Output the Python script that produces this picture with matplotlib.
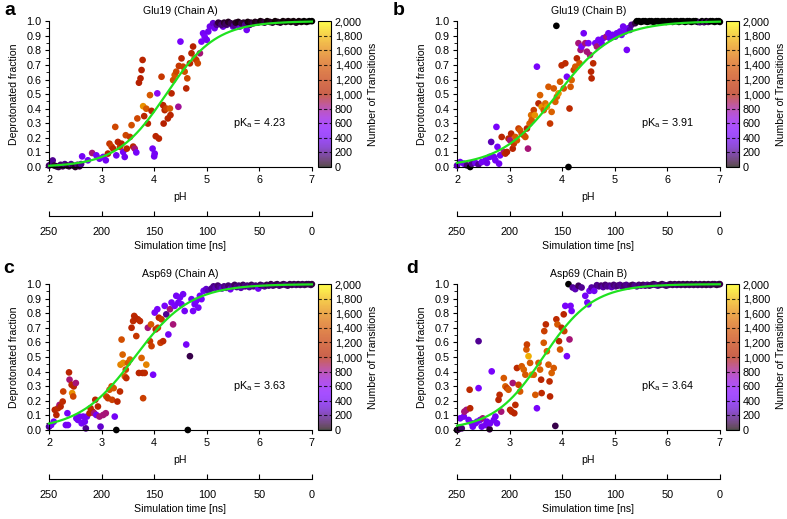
import numpy as np
import matplotlib
matplotlib.use('Agg')
import matplotlib.pyplot as plt
from matplotlib import colors
from matplotlib.colorbar import Colorbar
from matplotlib.ticker import FuncFormatter, MultipleLocator

plt.rcParams['font.family'] = ['Liberation Sans', 'DejaVu Sans']
plt.rcParams['font.size'] = 7.6
plt.rcParams['mathtext.default'] = 'regular'

titles = ['Glu19 (Chain A)', 'Glu19 (Chain B)', 'Asp69 (Chain A)', 'Asp69 (Chain B)']
letters = ['a', 'b', 'c', 'd']
pka = [4.23, 3.91, 3.63, 3.64]
hill = [0.92, 0.80, 0.82, 0.92]       # Hill coefficients
ph_ticks = [2, 3, 4, 5, 6, 7]
time_ticks = [250, 200, 150, 100, 50, 0]
cbar_ticks = list(range(0, 2001, 200))

# (pH, deprotonated fraction, number of transitions)
pts_a = [(2.00, 0.010, 120), (2.04, 0.020, 180), (2.07, 0.045, 200), (2.10, 0.010, 80), (2.14, 0.005, 60),
         (2.18, 0.000, 100), (2.22, 0.015, 150), (2.26, 0.005, 80), (2.30, 0.020, 180), (2.34, 0.010, 100),
         (2.38, 0.005, 60), (2.42, 0.020, 200), (2.46, 0.010, 120), (2.50, 0.000, 50), (2.54, 0.015, 150),
         (2.58, 0.005, 80), (2.61, 0.020, 200),
         (2.63, 0.073, 420), (2.74, 0.046, 400), (2.82, 0.096, 850), (2.90, 0.080, 420), (2.96, 0.057, 400),
         (3.03, 0.069, 430), (3.08, 0.046, 400), (3.12, 0.092, 1000), (3.15, 0.160, 1200), (3.19, 0.140, 1250),
         (3.22, 0.126, 1050), (3.26, 0.275, 1300), (3.28, 0.080, 400), (3.31, 0.172, 1050), (3.35, 0.138, 1200),
         (3.38, 0.160, 1000), (3.41, 0.103, 420), (3.44, 0.069, 400), (3.46, 0.218, 1300), (3.48, 0.126, 1050),
         (3.54, 0.206, 1200), (3.57, 0.287, 1350), (3.60, 0.140, 1050), (3.63, 0.126, 850), (3.66, 0.100, 430),
         (3.68, 0.333, 1300), (3.71, 0.578, 1000), (3.74, 0.608, 1000), (3.76, 0.665, 1000), (3.78, 0.734, 1050),
         (3.79, 0.417, 1650), (3.81, 0.349, 1050), (3.85, 0.400, 1400), (3.88, 0.298, 1050), (3.92, 0.493, 1400),
         (3.95, 0.385, 1050), (3.97, 0.126, 420), (4.00, 0.073, 400), (4.01, 0.092, 420), (4.03, 0.211, 1050),
         (4.06, 0.505, 600), (4.09, 0.195, 1050), (4.14, 0.619, 1200), (4.17, 0.424, 1050), (4.18, 0.298, 1000),
         (4.20, 0.390, 1050), (4.23, 0.401, 1250), (4.26, 0.333, 1050), (4.30, 0.401, 1400), (4.31, 0.356, 1050),
         (4.33, 0.505, 1050), (4.36, 0.596, 1350), (4.39, 0.631, 1400), (4.42, 0.654, 1300), (4.46, 0.413, 800),
         (4.47, 0.693, 1200), (4.50, 0.860, 450), (4.52, 0.745, 1050), (4.55, 0.688, 1250), (4.58, 0.654, 1350),
         (4.61, 0.539, 1050), (4.63, 0.608, 1300), (4.68, 0.711, 1050), (4.71, 0.780, 1050), (4.74, 0.826, 1000),
         (4.77, 0.745, 1350), (4.80, 0.734, 1200), (4.83, 0.711, 1300), (4.87, 0.780, 850), (4.90, 0.860, 450),
         (4.93, 0.917, 420), (4.96, 0.894, 450), (5.00, 0.872, 420), (5.03, 0.929, 400), (5.06, 0.963, 380),
         (5.12, 0.986, 300), (5.15, 0.952, 400), (5.19, 0.975, 200), (5.25, 0.986, 150), (5.31, 0.963, 350),
         (5.38, 0.975, 180), (5.44, 0.986, 150), (5.50, 0.963, 380), (5.57, 0.982, 200), (5.63, 0.963, 380),
         (5.76, 0.940, 400), (5.82, 0.975, 150),
         (5.22, 0.990, 80), (5.28, 0.975, 150), (5.33, 0.990, 60), (5.36, 0.980, 120), (5.41, 0.995, 40),
         (5.46, 0.985, 100), (5.52, 0.970, 200), (5.55, 0.990, 50), (5.60, 0.995, 30), (5.66, 0.985, 90),
         (5.70, 0.990, 60), (5.73, 0.975, 180), (5.78, 0.995, 20), (5.84, 0.990, 40), (5.88, 0.985, 100),
         (5.92, 0.995, 30), (5.97, 0.990, 60), (6.02, 1.000, 10), (6.06, 0.995, 40), (6.10, 0.990, 80),
         (6.15, 1.000, 10), (6.20, 0.995, 30), (6.25, 0.990, 60), (6.30, 1.000, 10), (6.35, 0.995, 20),
         (6.40, 0.990, 50), (6.45, 1.000, 10), (6.50, 0.995, 30), (6.55, 1.000, 10), (6.60, 0.995, 20),
         (6.65, 1.000, 10), (6.70, 0.990, 40), (6.75, 1.000, 10), (6.80, 0.995, 20), (6.85, 1.000, 0),
         (6.90, 0.995, 10), (6.95, 1.000, 0), (7.00, 1.000, 0)]

pts_b = [(2.00, 0.010, 250), (2.06, 0.034, 400), (2.13, 0.023, 380), (2.19, 0.011, 150), (2.25, 0.000, 0),
         (2.28, 0.023, 200), (2.35, 0.028, 400), (2.41, 0.018, 200), (2.47, 0.034, 400), (2.54, 0.046, 420),
         (2.57, 0.028, 380), (2.62, 0.069, 420), (2.65, 0.172, 250), (2.70, 0.069, 400), (2.73, 0.046, 420),
         (2.75, 0.275, 450), (2.77, 0.138, 430), (2.80, 0.023, 400), (2.82, 0.080, 420), (2.85, 0.206, 1050),
         (2.89, 0.103, 850), (2.92, 0.092, 1050), (2.95, 0.103, 1000), (2.98, 0.195, 1050), (3.01, 0.183, 850),
         (3.03, 0.229, 1050), (3.06, 0.126, 1050), (3.08, 0.160, 1200), (3.11, 0.206, 1400), (3.14, 0.183, 1400),
         (3.17, 0.264, 1250), (3.20, 0.252, 1400), (3.23, 0.229, 1350), (3.27, 0.218, 1200), (3.30, 0.206, 1350),
         (3.33, 0.264, 1050), (3.35, 0.126, 850), (3.38, 0.298, 1450), (3.41, 0.356, 1500), (3.42, 0.321, 1400),
         (3.46, 0.390, 1250), (3.48, 0.356, 1650), (3.52, 0.688, 450), (3.55, 0.436, 1050), (3.58, 0.493, 1450),
         (3.61, 0.413, 1650), (3.65, 0.390, 1400), (3.68, 0.436, 1500), (3.71, 0.413, 1650), (3.74, 0.550, 1400),
         (3.77, 0.298, 1200), (3.80, 0.378, 1450), (3.84, 0.539, 1400), (3.87, 0.447, 1450), (3.89, 0.968, 0),
         (3.90, 0.482, 1450), (3.93, 0.505, 1650), (3.96, 0.585, 1400), (3.99, 0.697, 1100), (4.03, 0.539, 1400),
         (4.06, 0.711, 1100), (4.09, 0.619, 450), (4.12, 0.000, 0), (4.14, 0.401, 1100), (4.16, 0.550, 1400),
         (4.18, 0.596, 1450), (4.22, 0.665, 1250), (4.25, 0.688, 1400), (4.28, 0.745, 1050), (4.31, 0.849, 850),
         (4.33, 0.711, 1400), (4.35, 0.803, 850), (4.37, 0.826, 450), (4.41, 0.917, 420), (4.44, 0.849, 850),
         (4.47, 0.791, 850), (4.50, 0.849, 450), (4.53, 0.768, 850), (4.55, 0.654, 1050), (4.56, 0.608, 1050),
         (4.59, 0.711, 1100), (4.63, 0.849, 450), (4.66, 0.826, 850), (4.69, 0.872, 450), (4.75, 0.849, 420),
         (4.78, 0.883, 420), (4.84, 0.894, 850), (4.88, 0.917, 420), (4.91, 0.883, 430), (4.96, 0.906, 420),
         (5.01, 0.894, 420), (5.04, 0.917, 400), (5.10, 0.929, 420), (5.13, 0.906, 420), (5.16, 0.963, 400),
         (5.20, 0.929, 420), (5.23, 0.803, 430), (5.26, 0.952, 400), (5.29, 0.940, 250), (5.32, 0.975, 200),
         (5.39, 0.986, 80), (5.42, 1.000, 0),
         (5.46, 1.000, 0), (5.50, 0.995, 0), (5.54, 1.000, 0), (5.58, 1.000, 0), (5.62, 0.995, 0),
         (5.66, 1.000, 0), (5.70, 1.000, 0), (5.74, 0.995, 0), (5.78, 1.000, 0), (5.82, 1.000, 0),
         (5.86, 0.995, 0), (5.90, 1.000, 0), (5.94, 1.000, 0), (5.98, 0.995, 0), (6.02, 1.000, 0),
         (6.06, 1.000, 0), (6.10, 0.995, 0), (6.14, 1.000, 0), (6.18, 1.000, 0), (6.22, 0.995, 0),
         (6.26, 1.000, 0), (6.30, 1.000, 0), (6.34, 0.995, 0), (6.38, 1.000, 0), (6.42, 1.000, 0),
         (6.46, 0.995, 0), (6.50, 1.000, 0), (6.54, 1.000, 0), (6.58, 0.995, 0), (6.62, 0.993, 150),
         (6.66, 1.000, 0), (6.70, 0.993, 120), (6.74, 1.000, 0), (6.78, 0.995, 100), (6.82, 1.000, 0),
         (6.86, 1.000, 0), (6.90, 0.995, 0), (6.94, 1.000, 0), (6.98, 1.000, 0), (7.00, 0.995, 0)]

pts_c = [(2.00, 0.023, 200), (2.04, 0.034, 420), (2.09, 0.057, 420), (2.11, 0.138, 1050), (2.14, 0.103, 1050),
         (2.17, 0.149, 1100), (2.20, 0.172, 850), (2.22, 0.161, 1050), (2.26, 0.195, 1100), (2.27, 0.264, 1250),
         (2.32, 0.034, 420), (2.35, 0.115, 430), (2.36, 0.034, 420), (2.38, 0.395, 1050), (2.39, 0.345, 850),
         (2.43, 0.310, 1100), (2.44, 0.253, 1650), (2.46, 0.230, 1300), (2.47, 0.299, 1050), (2.51, 0.322, 850),
         (2.52, 0.080, 420), (2.55, 0.069, 420), (2.58, 0.092, 420), (2.62, 0.046, 430), (2.65, 0.092, 420),
         (2.68, 0.057, 420), (2.70, 0.011, 200), (2.72, 0.092, 420), (2.77, 0.115, 1050), (2.79, 0.149, 1100),
         (2.83, 0.126, 1050), (2.86, 0.115, 850), (2.88, 0.207, 1050), (2.90, 0.103, 420), (2.93, 0.161, 1050),
         (2.96, 0.092, 850), (2.98, 0.023, 300), (3.03, 0.103, 850), (3.08, 0.115, 850), (3.09, 0.230, 1300),
         (3.12, 0.218, 1200), (3.15, 0.276, 1400), (3.19, 0.299, 1350), (3.20, 0.207, 1250), (3.23, 0.287, 1400),
         (3.25, 0.092, 420), (3.28, 0.000, 0), (3.30, 0.195, 1050), (3.35, 0.264, 1100), (3.36, 0.448, 1600),
         (3.38, 0.620, 1350), (3.40, 0.517, 1450), (3.41, 0.460, 1650), (3.44, 0.368, 1400), (3.46, 0.414, 1250),
         (3.47, 0.356, 1100), (3.50, 0.460, 1400), (3.54, 0.483, 1450), (3.57, 0.701, 1050), (3.60, 0.747, 1100),
         (3.62, 0.782, 1100), (3.64, 0.770, 1050), (3.66, 0.644, 1200), (3.69, 0.759, 1050), (3.71, 0.391, 1050),
         (3.73, 0.747, 1100), (3.76, 0.494, 1450), (3.78, 0.391, 1050), (3.79, 0.218, 1250), (3.82, 0.391, 1100),
         (3.85, 0.448, 1600), (3.88, 0.701, 850), (3.92, 0.609, 1200), (3.94, 0.724, 1400), (3.95, 0.575, 1250),
         (3.98, 0.379, 450), (4.01, 0.805, 450), (4.03, 0.690, 1050), (4.06, 0.828, 450), (4.07, 0.701, 1200),
         (4.09, 0.770, 1050), (4.12, 0.598, 1250), (4.14, 0.759, 1200), (4.17, 0.609, 1100), (4.20, 0.851, 450),
         (4.23, 0.793, 200), (4.27, 0.655, 420), (4.30, 0.828, 850), (4.33, 0.874, 450), (4.36, 0.724, 850),
         (4.39, 0.851, 450), (4.42, 0.920, 420), (4.46, 0.874, 420), (4.49, 0.908, 430), (4.52, 0.862, 450),
         (4.55, 0.931, 420), (4.58, 0.816, 420), (4.61, 0.586, 430), (4.64, 0.000, 0), (4.68, 0.506, 100),
         (4.71, 0.897, 420), (4.74, 0.816, 450), (4.77, 0.862, 420), (4.80, 0.885, 450), (4.84, 0.839, 430),
         (4.87, 0.920, 420), (4.90, 0.897, 430), (4.94, 0.954, 400), (4.99, 0.966, 300), (5.03, 0.954, 250),
         (5.09, 0.970, 200),
         (5.13, 0.985, 180), (5.17, 0.975, 250), (5.21, 0.990, 150), (5.25, 0.980, 200), (5.29, 0.970, 300),
         (5.33, 0.985, 180), (5.37, 0.975, 220), (5.41, 0.990, 150), (5.45, 0.965, 400), (5.49, 0.985, 200),
         (5.53, 0.995, 120), (5.57, 0.980, 200), (5.61, 0.990, 150), (5.65, 0.975, 250), (5.69, 0.995, 120),
         (5.73, 0.985, 180), (5.77, 0.990, 150), (5.81, 0.980, 220), (5.85, 0.995, 120), (5.89, 0.985, 180),
         (5.93, 0.990, 150), (5.98, 0.970, 400), (6.02, 0.995, 120), (6.06, 0.990, 150), (6.10, 0.985, 180),
         (6.14, 0.995, 100), (6.18, 0.990, 150), (6.22, 1.000, 100), (6.26, 0.990, 150), (6.30, 0.995, 120),
         (6.34, 1.000, 100), (6.38, 0.990, 150), (6.42, 0.995, 120), (6.46, 1.000, 100), (6.50, 0.995, 150),
         (6.54, 0.990, 120), (6.58, 1.000, 100), (6.62, 0.995, 120), (6.66, 1.000, 100), (6.70, 0.995, 150),
         (6.74, 1.000, 80), (6.78, 0.995, 120), (6.82, 1.000, 100), (6.86, 0.995, 120), (6.90, 1.000, 80),
         (6.94, 1.000, 100), (6.98, 0.995, 120), (7.00, 1.000, 80)]

pts_d = [(2.00, 0.000, 0), (2.03, 0.005, 80), (2.06, 0.080, 420), (2.09, 0.011, 150), (2.13, 0.092, 420),
         (2.14, 0.126, 850), (2.18, 0.138, 850), (2.22, 0.069, 420), (2.24, 0.276, 1100), (2.25, 0.149, 1050),
         (2.28, 0.046, 420), (2.30, 0.023, 400), (2.35, 0.046, 420), (2.38, 0.057, 430), (2.41, 0.609, 200),
         (2.41, 0.287, 450), (2.44, 0.069, 420), (2.47, 0.023, 400), (2.49, 0.080, 850), (2.54, 0.034, 420),
         (2.57, 0.057, 400), (2.62, 0.005, 80), (2.63, 0.046, 420), (2.66, 0.402, 450), (2.70, 0.069, 420),
         (2.73, 0.092, 420), (2.76, 0.046, 430), (2.79, 0.207, 1050), (2.81, 0.241, 1100), (2.84, 0.126, 850),
         (2.89, 0.356, 1400), (2.92, 0.299, 1450), (2.95, 0.287, 1250), (2.98, 0.276, 1400), (3.01, 0.138, 1050),
         (3.04, 0.126, 1100), (3.06, 0.322, 850), (3.09, 0.115, 1050), (3.11, 0.172, 1100), (3.14, 0.425, 1100),
         (3.17, 0.310, 1250), (3.20, 0.264, 1400), (3.23, 0.437, 1400), (3.27, 0.414, 1450), (3.30, 0.379, 1400),
         (3.32, 0.552, 1400), (3.33, 0.586, 1250), (3.36, 0.506, 1750), (3.39, 0.460, 1400), (3.42, 0.379, 1650),
         (3.46, 0.379, 1450), (3.49, 0.241, 1400), (3.52, 0.149, 450), (3.55, 0.460, 1400), (3.58, 0.414, 1450),
         (3.60, 0.345, 1050), (3.61, 0.253, 1100), (3.65, 0.598, 1400), (3.66, 0.678, 1250), (3.69, 0.724, 1100),
         (3.71, 0.540, 1450), (3.74, 0.448, 1400), (3.76, 0.333, 1100), (3.77, 0.230, 1050), (3.80, 0.391, 1450),
         (3.84, 0.425, 1400), (3.87, 0.028, 100), (3.89, 0.759, 1100), (3.91, 0.724, 1400), (3.94, 0.609, 1050),
         (3.96, 0.552, 1400), (3.99, 0.701, 1100), (4.03, 0.793, 1050), (4.04, 0.678, 1250), (4.06, 0.851, 450),
         (4.09, 0.506, 450), (4.12, 1.000, 0), (4.14, 0.621, 850), (4.16, 0.851, 450), (4.18, 0.816, 430),
         (4.20, 0.977, 200), (4.25, 0.966, 250), (4.31, 0.989, 120), (4.37, 0.977, 200), (4.44, 0.920, 420),
         (4.48, 0.874, 420), (4.50, 0.862, 450), (4.52, 0.954, 420), (4.56, 0.977, 220), (4.61, 0.954, 400),
         (4.66, 0.993, 180),
         (4.70, 0.985, 200), (4.74, 0.990, 150), (4.78, 0.980, 220), (4.82, 0.995, 150), (4.86, 0.985, 200),
         (4.90, 0.990, 180), (4.94, 0.980, 250), (4.98, 0.995, 150), (5.02, 0.985, 200), (5.06, 0.990, 150),
         (5.10, 0.995, 180), (5.14, 0.985, 200), (5.18, 0.990, 150), (5.22, 0.995, 180), (5.26, 0.985, 200),
         (5.30, 0.990, 150), (5.34, 0.995, 120), (5.38, 0.990, 180), (5.42, 0.985, 200), (5.46, 0.995, 150),
         (5.50, 0.990, 180), (5.54, 0.995, 120), (5.58, 0.990, 150), (5.62, 0.995, 180), (5.66, 0.990, 120),
         (5.70, 0.995, 150), (5.74, 1.000, 120), (5.78, 0.995, 150), (5.82, 0.990, 180), (5.86, 0.995, 120),
         (5.90, 1.000, 100), (5.94, 0.995, 150), (5.98, 0.990, 120), (6.02, 0.995, 150), (6.06, 1.000, 100),
         (6.10, 0.995, 120), (6.14, 1.000, 100), (6.18, 0.995, 150), (6.22, 1.000, 100), (6.26, 0.995, 120),
         (6.30, 1.000, 100), (6.34, 0.995, 120), (6.38, 1.000, 80), (6.42, 0.995, 120), (6.46, 1.000, 100),
         (6.50, 0.995, 120), (6.54, 1.000, 80), (6.58, 0.995, 120), (6.62, 1.000, 100), (6.66, 0.995, 120),
         (6.70, 1.000, 80), (6.74, 0.995, 100), (6.78, 1.000, 80), (6.82, 0.995, 120), (6.86, 1.000, 80),
         (6.90, 1.000, 100), (6.94, 0.995, 80), (6.98, 1.000, 100), (7.00, 1.000, 80)]

panels = [pts_a, pts_b, pts_c, pts_d]

fig = plt.figure(figsize=(7.87, 5.19), dpi=100)
fig.set_facecolor('w')
cmap = plt.get_cmap('gnuplot')
norm = colors.Normalize(0, 2000)

# axes boxes in figure fractions: left, bottom
boxes = [(0.0623, 0.6782), (0.5807, 0.6782), (0.0623, 0.1715), (0.5807, 0.1715)]
letter_pos = [(0.006, 0.980), (0.499, 0.980), (0.004, 0.482), (0.516, 0.482)]
w, h = 0.334, 0.281

def to_time(p):
    return 250 - 50 * (p - 2)

def to_ph(t):
    return 2 + (250 - t) / 50

for i, pts in enumerate(panels):
    x0, y0 = boxes[i]
    ax = fig.add_axes([x0, y0, w, h])
    ph, frac, ntr = np.array(pts).T
    ax.scatter(ph, frac, c=ntr, cmap=cmap, norm=norm, s=23, lw=0, clip_on=False, zorder=2)
    xx = np.linspace(2, 7, 300)
    ax.plot(xx, 1 / (1 + 10 ** (hill[i] * (pka[i] - xx))), color='#1fe21f', lw=1.6,
            zorder=3, clip_on=False)

    ax.set_xlim(2, 7)
    ax.set_ylim(0, 1)
    ax.spines['top'].set_visible(False)
    ax.spines['right'].set_visible(False)
    ax.set_xticks(ph_ticks)
    ax.yaxis.set_major_locator(MultipleLocator(0.1))
    ax.yaxis.set_minor_locator(MultipleLocator(0.05))
    ax.yaxis.set_major_formatter(FuncFormatter(lambda v, p: '%.1f' % v))
    ax.tick_params(which='major', length=3, width=0.8, labelsize=7.8, pad=2.5)
    ax.tick_params(which='minor', length=2, width=0.6)
    ax.set_xlabel('pH', labelpad=5)
    ax.set_ylabel('Deprotonated fraction', labelpad=5)
    ax.set_title(titles[i], pad=5, fontsize=7.6)
    ax.text(6.0, 0.3, 'pK$_a$ = %.2f' % pka[i], ha='center', va='center', fontsize=7.8)

    sec = ax.secondary_xaxis(-0.335, functions=(to_time, to_ph))
    sec.set_xticks(time_ticks)
    sec.tick_params(direction='in', length=3.5, width=0.8, labelsize=7.8, pad=8)
    sec.set_xlabel('Simulation time [ns]', labelpad=3)

    cax = fig.add_axes([x0 + w + 0.0075, y0, 0.0165, h])
    cb = Colorbar(cax, cmap=cmap, norm=norm, alpha=0.7)
    cb.set_ticks(cbar_ticks)
    cb.ax.yaxis.set_major_formatter(FuncFormatter(lambda v, p: '{:,}'.format(int(v))))
    cb.ax.tick_params(length=0, pad=3, labelsize=7.8)
    cb.ax.hlines(cbar_ticks[1:-1], 0, 1, colors='k', lw=0.8, linestyles=(0, (3, 2)), alpha=0.8)
    cb.outline.set_linewidth(0.8)
    cb.set_label('Number of Transitions', labelpad=4)

    fig.text(letter_pos[i][0], letter_pos[i][1], letters[i], fontsize=14, fontweight='bold',
             va='center', ha='left')

fig.savefig('out.png', dpi=100)
